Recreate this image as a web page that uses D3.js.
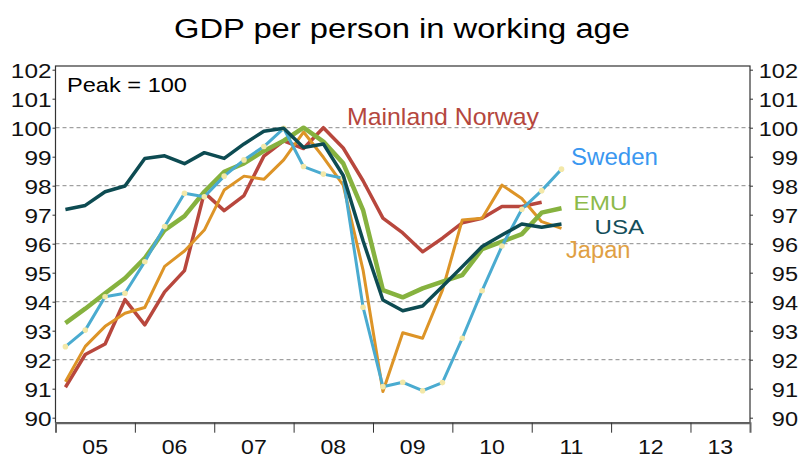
<!DOCTYPE html>
<html>
<head>
<meta charset="utf-8">
<script src="https://cdn.jsdelivr.net/npm/d3@7"></script>
<style>
  body { margin: 0; background: white; }
  text { font-family: "Liberation Sans", Arial, sans-serif; }
</style>
</head>
<body>
<div id="chart"></div>
<script>
// Quarters shown (2005Q1 - 2011Q2)
const quarters = ['2005Q1','2005Q2','2005Q3','2005Q4','2006Q1','2006Q2','2006Q3','2006Q4',
                  '2007Q1','2007Q2','2007Q3','2007Q4','2008Q1','2008Q2','2008Q3','2008Q4',
                  '2009Q1','2009Q2','2009Q3','2009Q4','2010Q1','2010Q2','2010Q3','2010Q4',
                  '2011Q1','2011Q2'];

// Index, peak = 100
const usa    = [97.18, 97.32, 97.79, 97.99, 98.94, 99.03, 98.76, 99.14, 98.94, 99.44, 99.88, 99.98, 99.32,
                99.44, 98.35, 96.10, 94.06, 93.69, 93.85, 94.52, 95.21, 95.90, 96.30, 96.68, 96.57, 96.68];
const emu    = [93.26, 93.76, 94.29, 94.81, 95.50, 96.47, 96.95, 97.79, 98.48, 98.77, 99.20, 99.55, 100.0,
                99.52, 98.77, 97.16, 94.40, 94.15, 94.46, 94.69, 94.92, 95.81, 96.07, 96.33, 97.07, 97.22];
const sweden = [92.45, 93.02, 94.17, 94.29, 95.38, 96.59, 97.74, 97.62, 98.33, 98.89, 99.35, 99.98, 98.66,
                98.40, 98.26, 93.81, 91.07, 91.22, 90.93, 91.21, 92.74, 94.38, 95.92, 97.19, 97.83, 98.57];
const norway = [91.05, 92.18, 92.54, 94.07, 93.20, 94.34, 95.07, 97.76, 97.14, 97.66, 99.02, 99.55, 99.28,
                100.0, 99.30, 98.17, 96.88, 96.37, 95.72, 96.19, 96.72, 96.88, 97.28, 97.28, 97.43];
const japan  = [91.24, 92.46, 93.15, 93.60, 93.80, 95.22, 95.75, 96.47, 97.85, 98.33, 98.22, 98.89, 99.85,
                98.98, 98.02, 95.09, 90.90, 92.93, 92.74, 94.40, 96.82, 96.88, 98.02, 97.56, 96.76, 96.53];

const yTicks = [90, 91, 92, 93, 94, 95, 96, 97, 98, 99, 100, 101, 102];
const gridValues = [92, 94, 96, 98, 100];
const years = [2005, 2006, 2007, 2008, 2009, 2010, 2011, 2012, 2013];
const yearLabels = ['05', '06', '07', '08', '09', '10', '11', '12', '13'];

const series = [
    {name: 'Mainland Norway', values: norway, color: '#b8473d', width: 3.5},
    {name: 'Japan', values: japan, color: '#dd9427', width: 3},
    {name: 'EMU', values: emu, color: '#86b23f', width: 4.5},
    {name: 'Sweden', values: sweden, color: '#4aabd0', width: 3, dots: true},
    {name: 'USA', values: usa, color: '#0d4b52', width: 3.5}
];

let width = 803,
    height = 457;

// plot frame
let frame = {left: 55.5, right: 750, top: 66, bottom: 422.7};

let svg = d3.select('#chart')
            .append('svg')
            .attr('width', width)
            .attr('height', height)
            .style('background', 'white');

// quarter label -> decimal year, centred in the quarter
const toYear = q => +q.slice(0, 4) + (+q.slice(5) - 0.5) / 4;

let xScale = d3.scaleLinear()
            .domain([2005, 2013.75])
            .range([frame.left, frame.right]);

let yScale = d3.scaleLinear()
            .domain([90, 102])
            .range([417.7, 69.7]);

// Title
svg.append('text')
    .attr('x', 402)
    .attr('y', 38)
    .attr('text-anchor', 'middle')
    .attr('textLength', 456)
    .attr('lengthAdjust', 'spacingAndGlyphs')
    .style('font-size', '27px')
    .text('GDP per person in working age');

// Gridlines
svg.selectAll('.grid')
    .data(gridValues)
    .enter().append('line')
    .attr('x1', frame.left)
    .attr('x2', frame.right)
    .attr('y1', d => yScale(d))
    .attr('y2', d => yScale(d))
    .attr('stroke', '#8a8a8a')
    .attr('stroke-width', 1)
    .attr('stroke-dasharray', '4,3');

// Frame
svg.append('rect')
    .attr('x', frame.left)
    .attr('y', frame.top)
    .attr('width', frame.right - frame.left)
    .attr('height', frame.bottom - frame.top)
    .attr('fill', 'none')
    .attr('stroke', '#333')
    .attr('stroke-width', 1.2);

// Y axes, left and right
let yAxisLeft = svg.append('g')
            .attr('transform', `translate(${frame.left},0)`)
            .call(d3.axisLeft(yScale).tickValues(yTicks).tickSize(3).tickPadding(3));

let yAxisRight = svg.append('g')
            .attr('transform', `translate(${frame.right},0)`)
            .call(d3.axisRight(yScale).tickValues(yTicks).tickSize(3).tickPadding(3));

[yAxisLeft, yAxisRight].forEach(g => {
    g.select('.domain').remove();
    g.selectAll('line').attr('stroke', '#333');
    g.selectAll('text')
        .style('font-size', '21px')
        .attr('fill', '#111')
        .attr('dy', '0.36em');
});

// left labels: stretch horizontally, anchored at their right end
yAxisLeft.selectAll('text')
    .attr('x', null)
    .attr('text-anchor', 'end')
    .attr('transform', 'translate(-4,0) scale(1.16,1)');

// right labels are right aligned at the window edge
yAxisRight.selectAll('text')
    .attr('x', null)
    .attr('text-anchor', 'end')
    .attr('transform', `translate(${798 - frame.right},0) scale(1.12,1)`);

// X axis: ticks at year boundaries, labels centred in each year
let xAxis = svg.append('g')
            .attr('transform', `translate(0,${frame.bottom})`)
            .call(d3.axisBottom(xScale).tickValues(years.slice(1)).tickSize(10).tickFormat(''));
xAxis.select('.domain').attr('stroke', '#666').attr('stroke-width', 2);
xAxis.selectAll('line').attr('stroke', '#333');

svg.selectAll('.xlabel')
    .data(years)
    .enter().append('text')
    .attr('class', 'xlabel')
    .attr('text-anchor', 'middle')
    .attr('transform', (d, i) => {
        let cx = (xScale(d) + xScale(Math.min(d + 1, 2013.75))) / 2;
        return `translate(${cx},${frame.bottom + 31}) scale(1.1,1)`;
    })
    .style('font-size', '21px')
    .attr('fill', '#111')
    .text((d, i) => yearLabels[i]);

// Lines
let line = d3.line()
            .x((d, i) => xScale(toYear(quarters[i])))
            .y(d => yScale(d));

series.forEach(s => {
    svg.append('path')
        .datum(s.values)
        .attr('d', line)
        .attr('fill', 'none')
        .attr('stroke', s.color)
        .attr('stroke-width', s.width)
        .attr('stroke-linejoin', 'round');

    if (s.dots) {
        svg.selectAll('.dot')
            .data(s.values)
            .enter().append('circle')
            .attr('cx', (d, i) => xScale(toYear(quarters[i])))
            .attr('cy', d => yScale(d))
            .attr('r', 2.8)
            .attr('fill', '#f3e8a8');
    }
});

// Annotation and series labels
svg.append('text')
    .attr('x', 67)
    .attr('y', 91.5)
    .attr('textLength', 120)
    .attr('lengthAdjust', 'spacingAndGlyphs')
    .style('font-size', '21px')
    .text('Peak = 100');

const labels = [
    {text: 'Mainland Norway', x: 347, y: 125, len: 192, color: '#b5473e', size: 24},
    {text: 'Sweden', x: 571, y: 164.5, len: 87, color: '#3a97f0', size: 23},
    {text: 'EMU', x: 573.5, y: 210, len: 54, color: '#8dba4a', size: 21},
    {text: 'USA', x: 594.5, y: 233.5, len: 49.5, color: '#134e5a', size: 21},
    {text: 'Japan', x: 566, y: 258, len: 64.5, color: '#e0a043', size: 23}
];

svg.selectAll('.label')
    .data(labels)
    .enter().append('text')
    .attr('class', 'label')
    .attr('x', d => d.x)
    .attr('y', d => d.y)
    .attr('textLength', d => d.len)
    .attr('lengthAdjust', 'spacingAndGlyphs')
    .style('font-size', d => d.size + 'px')
    .attr('fill', d => d.color)
    .text(d => d.text);
</script>
</body>
</html>
